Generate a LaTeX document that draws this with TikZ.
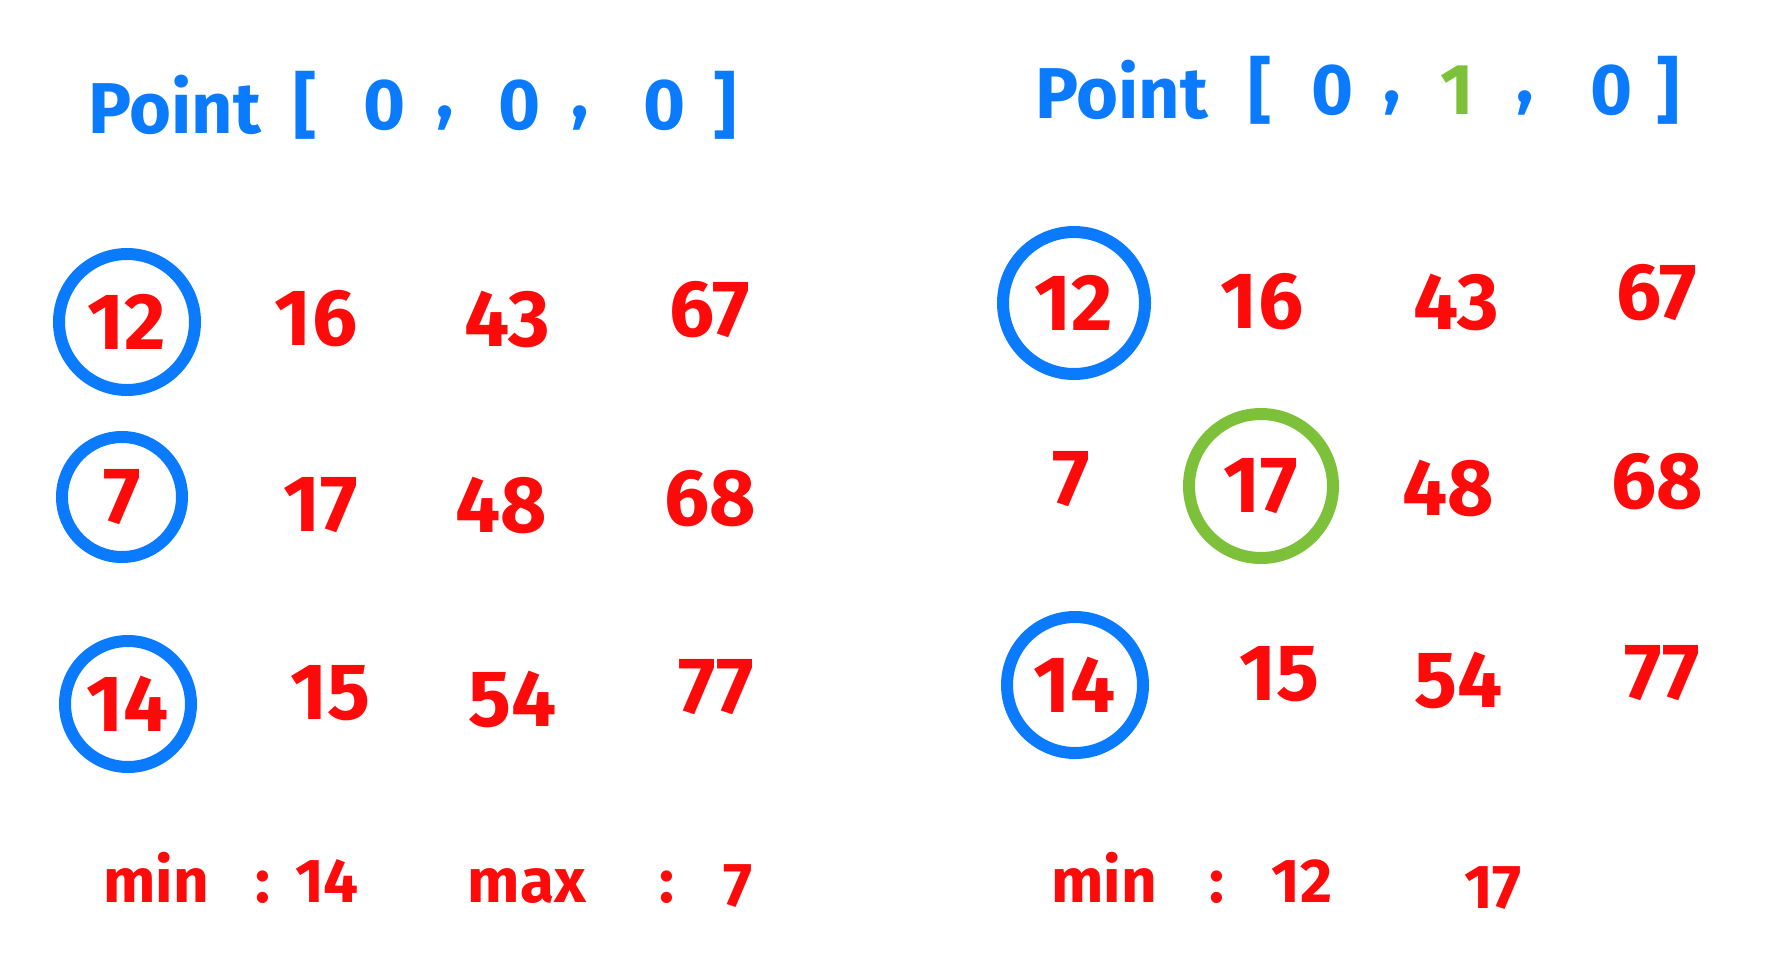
\documentclass[tikz,border=0pt]{standalone}
\usepackage{fontspec}
\setmainfont{Fira Sans}
\definecolor{pblue}{RGB}{10,122,255}
\definecolor{pred}{RGB}{255,10,10}
\definecolor{pgreen}{RGB}{125,193,58}
\begin{document}
\begin{tikzpicture}[x=1pt,y=-1pt,
  num/.style={text=pred,font=\fontsize{80}{80}\selectfont\bfseries,inner sep=0pt},
  lab/.style={text=pred,font=\fontsize{62}{62}\selectfont\bfseries,inner sep=0pt,anchor=base},
  ttl/.style={text=pblue,font=\fontsize{72}{72}\selectfont\bfseries,inner sep=0pt},
  ring/.style={draw=pblue,line width=12pt},
  gring/.style={draw=pgreen,line width=12pt}]
\useasboundingbox (0,0) rectangle (1767,979);
% left title
\node[ttl,anchor=west] (lp) at (88,105) {Point};
\node[ttl] (lb1) at (305,105) {[};
\node[ttl] (la) at (385,105) {0};
\node[ttl] (lc1) at (445,118) {,};
\node[ttl] (lb) at (520,105) {0};
\node[ttl] (lc2) at (580,118) {,};
\node[ttl] (lcz) at (665,105) {0};
\node[ttl] (lb2) at (725,105) {]};
% left grid
\draw[ring] (127,322) circle (68);
\draw[ring] (122,497) circle (60);
\draw[ring] (128,704) circle (63);
\node[num] (l11) at (127,322) {12};
\node[num] (l12) at (316,319) {16};
\node[num] (l13) at (507,319) {43};
\node[num] (l14) at (710,310) {67};
\node[num] (l21) at (122,497) {7};
\node[num] (l22) at (321,505) {17};
\node[num] (l23) at (501,505) {48};
\node[num] (l24) at (710,499) {68};
\node[num] (l31) at (128,704) {14};
\node[num] (l32) at (330,693) {15};
\node[num] (l33) at (513,699) {54};
\node[num] (l34) at (716,687) {77};
% left bottom
\node[lab] (lmin) at (156,902) {min};
\node[lab] (lcol1) at (263,902) {:};
\node[lab] (lminv) at (327,902) {14};
\node[lab] (lmax) at (527,902) {max};
\node[lab] (lcol2) at (667,902) {:};
\node[lab] (lmaxv) at (738,906) {7};
% right title
\node[ttl,anchor=west] (rp) at (1035,90) {Point};
\node[ttl] (rb1) at (1260,90) {[};
\node[ttl] (ra) at (1333,90) {0};
\node[ttl] (rc1) at (1392,103) {,};
\node[ttl,text=pgreen] (rb) at (1457,90) {1};
\node[ttl] (rc2) at (1525,103) {,};
\node[ttl] (rcz) at (1612,90) {0};
\node[ttl] (rb2) at (1668,90) {]};
% right grid
\draw[ring] (1074,303) circle (71);
\draw[gring] (1261,486) circle (72);
\draw[ring] (1075,685) circle (68);
\node[num] (r11) at (1074,303) {12};
\node[num] (r12) at (1262,302) {16};
\node[num] (r13) at (1456,302) {43};
\node[num] (r14) at (1657,293) {67};
\node[num] (r21) at (1071,479) {7};
\node[num] (r22) at (1261,486) {17};
\node[num] (r23) at (1448,488) {48};
\node[num] (r24) at (1657,482) {68};
\node[num] (r31) at (1075,685) {14};
\node[num] (r32) at (1279,674) {15};
\node[num] (r33) at (1459,680) {54};
\node[num] (r34) at (1662,673) {77};
% right bottom
\node[lab] (rmin) at (1104,902) {min};
\node[lab] (rcol) at (1217,902) {:};
\node[lab] (rminv) at (1302,902) {12};
\node[lab] (rv) at (1493,908) {17};
\end{tikzpicture}
\end{document}
